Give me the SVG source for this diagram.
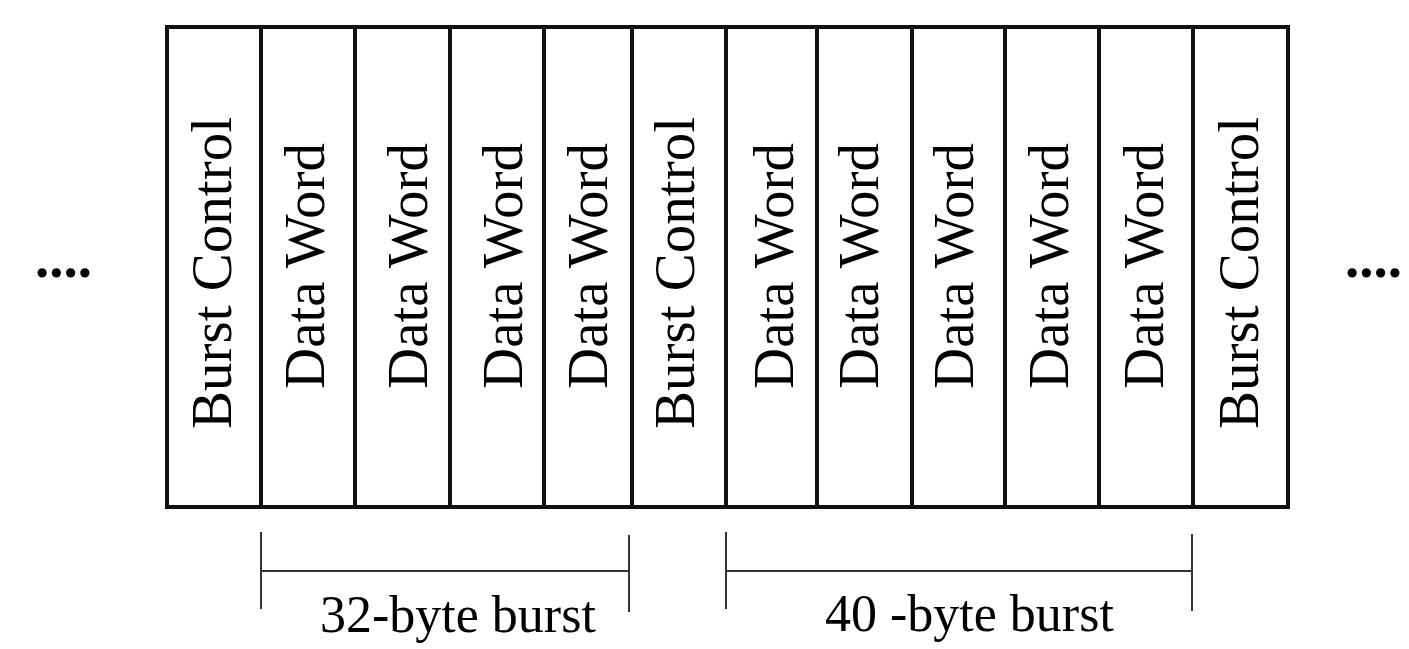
<svg xmlns="http://www.w3.org/2000/svg" width="1409" height="649" viewBox="0 0 1409 649">
<style>
.cell{fill:#fff;stroke:#111;stroke-width:4}
.div{stroke:#111;stroke-width:4}
.lbl{font-family:"Liberation Serif","Times New Roman",serif;font-size:57px;fill:#000;text-anchor:middle}
.brk{stroke:#333;stroke-width:2;fill:none}
.cap{font-family:"Liberation Serif","Times New Roman",serif;font-size:52px;fill:#000}
.dots{font-family:"Liberation Serif","Times New Roman",serif;font-size:57px;font-weight:bold;fill:#000}
</style>
<rect width="1409" height="649" fill="#fff"/>
<g id="frame">
<rect class="cell" x="167" y="27" width="1121" height="480"/>
</g>
<g id="dividers">
<line class="div" x1="261" y1="27" x2="261" y2="507"/>
<line class="div" x1="355" y1="27" x2="355" y2="507"/>
<line class="div" x1="450" y1="27" x2="450" y2="507"/>
<line class="div" x1="544" y1="27" x2="544" y2="507"/>
<line class="div" x1="632" y1="27" x2="632" y2="507"/>
<line class="div" x1="726" y1="27" x2="726" y2="507"/>
<line class="div" x1="817" y1="27" x2="817" y2="507"/>
<line class="div" x1="912" y1="27" x2="912" y2="507"/>
<line class="div" x1="1005" y1="27" x2="1005" y2="507"/>
<line class="div" x1="1099" y1="27" x2="1099" y2="507"/>
<line class="div" x1="1193" y1="27" x2="1193" y2="507"/>
</g>
<g id="bc1"><text class="lbl" transform="translate(231,273) rotate(-90)">Burst Control</text></g>
<g id="dw1"><text class="lbl" transform="translate(324,266) rotate(-90)">Data Word</text></g>
<g id="dw2"><text class="lbl" transform="translate(427,266) rotate(-90)">Data Word</text></g>
<g id="dw3"><text class="lbl" transform="translate(522,266) rotate(-90)">Data Word</text></g>
<g id="dw4"><text class="lbl" transform="translate(607,266) rotate(-90)">Data Word</text></g>
<g id="bc2"><text class="lbl" transform="translate(694,273) rotate(-90)">Burst Control</text></g>
<g id="dw5"><text class="lbl" transform="translate(793,266) rotate(-90)">Data Word</text></g>
<g id="dw6"><text class="lbl" transform="translate(878,266) rotate(-90)">Data Word</text></g>
<g id="dw7"><text class="lbl" transform="translate(973,266) rotate(-90)">Data Word</text></g>
<g id="dw8"><text class="lbl" transform="translate(1068,266) rotate(-90)">Data Word</text></g>
<g id="dw9"><text class="lbl" transform="translate(1163,266) rotate(-90)">Data Word</text></g>
<g id="bc3"><text class="lbl" transform="translate(1258,273) rotate(-90)">Burst Control</text></g>
<g id="ellipsis-left"><text class="dots" x="35" y="277">....</text></g>
<g id="ellipsis-right"><text class="dots" x="1345" y="277">....</text></g>
<g id="connectors">
<line class="brk" x1="261" y1="532" x2="261" y2="609"/>
<line class="brk" x1="629" y1="535" x2="629" y2="612"/>
<line class="brk" x1="261" y1="571" x2="629" y2="571"/>
<line class="brk" x1="726" y1="532" x2="726" y2="609"/>
<line class="brk" x1="1192" y1="534" x2="1192" y2="611"/>
<line class="brk" x1="726" y1="571" x2="1192" y2="571"/>
</g>
<g id="label32"><text class="cap" x="320" y="632">32-byte burst</text></g>
<g id="label40"><text class="cap" x="825" y="631">40 -byte burst</text></g>
</svg>
